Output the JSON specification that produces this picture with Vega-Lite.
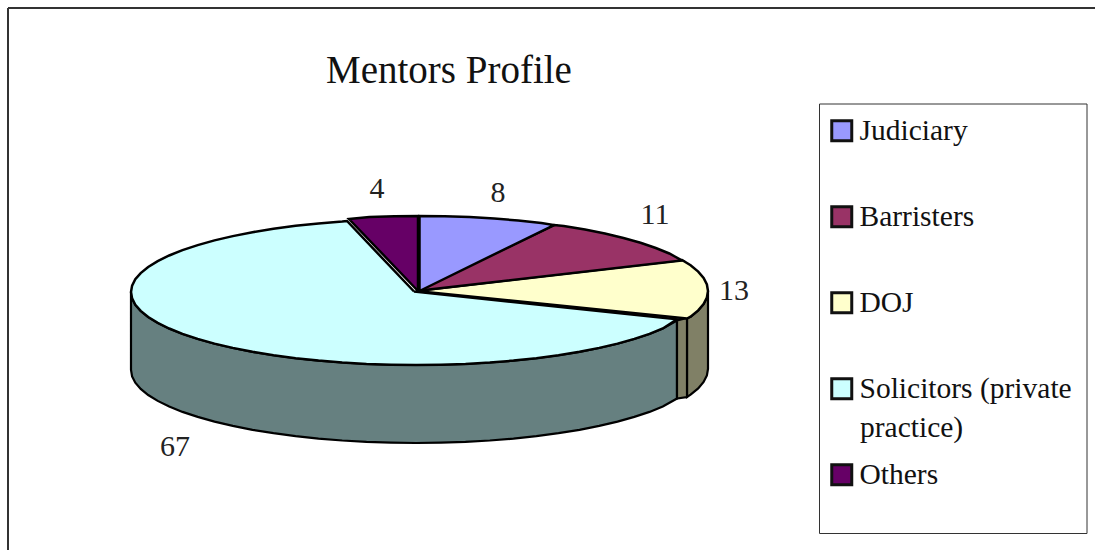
{
"$schema":"https://vega.github.io/schema/vega-lite/v6.json",
"width":1095,"height":550,"padding":0,"autosize":{"type":"none"},
"background":"white",
"view":{"stroke":null},
"title":{"text":"Mentors Profile","anchor":"start","frame":"group","dx":326,"offset":-91,"font":"Liberation Serif","fontSize":39,"fontWeight":"normal","color":"#111111"},
"datasets":{
"slices":[
{"name":"Judiciary","value":8,"x":498,"y":193},
{"name":"Barristers","value":11,"x":655,"y":215},
{"name":"DOJ","value":13,"x":734,"y":291},
{"name":"Solicitors (private practice)","value":67,"x":175,"y":447},
{"name":"Others","value":4,"x":377,"y":189}
],
"frame":[{"x":8,"x2":1095,"y":8,"y2":8},{"x":8,"x2":8,"y":8,"y2":550}],
"box":[{"x":819.5,"x2":1087,"y":104,"y2":533.5}],
"extra":[{"x":860,"y":428,"t":"practice)"}],
"walls":[
{"p":"S","x":677,"y":320.5},{"p":"S","x":662.8,"y":328.5},{"p":"S","x":649.5,"y":333.9},{"p":"S","x":634.3,"y":338.9},{"p":"S","x":617.5,"y":343.6},{"p":"S","x":599.2,"y":347.9},{"p":"S","x":579.5,"y":351.8},{"p":"S","x":558.5,"y":355.2},{"p":"S","x":536.4,"y":358.2},{"p":"S","x":513.5,"y":360.6},{"p":"S","x":489.8,"y":362.5},{"p":"S","x":465.5,"y":363.9},{"p":"S","x":440.9,"y":364.7},{"p":"S","x":416,"y":365},{"p":"S","x":391.1,"y":364.7},{"p":"S","x":366.5,"y":363.9},{"p":"S","x":342.2,"y":362.5},{"p":"S","x":318.5,"y":360.6},{"p":"S","x":295.6,"y":358.2},{"p":"S","x":273.5,"y":355.2},{"p":"S","x":252.5,"y":351.8},{"p":"S","x":232.8,"y":347.9},{"p":"S","x":214.5,"y":343.6},{"p":"S","x":197.7,"y":338.9},{"p":"S","x":182.5,"y":333.9},{"p":"S","x":169.2,"y":328.5},{"p":"S","x":157.7,"y":322.9},{"p":"S","x":148.2,"y":317},{"p":"S","x":140.7,"y":310.9},{"p":"S","x":135.3,"y":304.7},{"p":"S","x":132.1,"y":298.4},{"p":"S","x":131,"y":292},
{"p":"S","x":131,"y":370},{"p":"S","x":132.1,"y":376.4},{"p":"S","x":135.3,"y":382.7},{"p":"S","x":140.7,"y":388.9},{"p":"S","x":148.2,"y":395},{"p":"S","x":157.7,"y":400.9},{"p":"S","x":169.2,"y":406.5},{"p":"S","x":182.5,"y":411.9},{"p":"S","x":197.7,"y":416.9},{"p":"S","x":214.5,"y":421.6},{"p":"S","x":232.8,"y":425.9},{"p":"S","x":252.5,"y":429.8},{"p":"S","x":273.5,"y":433.2},{"p":"S","x":295.6,"y":436.2},{"p":"S","x":318.5,"y":438.6},{"p":"S","x":342.2,"y":440.5},{"p":"S","x":366.5,"y":441.9},{"p":"S","x":391.1,"y":442.7},{"p":"S","x":416,"y":443},{"p":"S","x":440.9,"y":442.7},{"p":"S","x":465.5,"y":441.9},{"p":"S","x":489.8,"y":440.5},{"p":"S","x":513.5,"y":438.6},{"p":"S","x":536.4,"y":436.2},{"p":"S","x":558.5,"y":433.2},{"p":"S","x":579.5,"y":429.8},{"p":"S","x":599.2,"y":425.9},{"p":"S","x":617.5,"y":421.6},{"p":"S","x":634.3,"y":416.9},{"p":"S","x":649.5,"y":411.9},{"p":"S","x":662.8,"y":406.5},{"p":"S","x":677,"y":398.5},{"p":"S","x":677,"y":320.5},
{"p":"D","x":687,"y":318},{"p":"D","x":690.6,"y":316.7},{"p":"D","x":698.2,"y":310.4},{"p":"D","x":703.6,"y":304},{"p":"D","x":706.9,"y":297.5},{"p":"D","x":708,"y":291},{"p":"D","x":708,"y":369},{"p":"D","x":706.9,"y":375.5},{"p":"D","x":703.6,"y":382},{"p":"D","x":698.2,"y":388.4},{"p":"D","x":690.6,"y":394.7},{"p":"D","x":687,"y":397},{"p":"D","x":687,"y":318},
{"p":"C","x":677,"y":320.5},{"p":"C","x":687,"y":318},{"p":"C","x":687,"y":397},{"p":"C","x":677,"y":398.5},{"p":"C","x":677,"y":320.5}
],
"tops":[
{"name":"Solicitors (private practice)","x":414,"y":291.5},{"name":"Solicitors (private practice)","x":677,"y":319.3},{"name":"Solicitors (private practice)","x":662.8,"y":328.5},{"name":"Solicitors (private practice)","x":649.5,"y":333.9},{"name":"Solicitors (private practice)","x":634.3,"y":338.9},{"name":"Solicitors (private practice)","x":617.5,"y":343.6},{"name":"Solicitors (private practice)","x":599.2,"y":347.9},{"name":"Solicitors (private practice)","x":579.5,"y":351.8},{"name":"Solicitors (private practice)","x":558.5,"y":355.2},{"name":"Solicitors (private practice)","x":536.4,"y":358.2},{"name":"Solicitors (private practice)","x":513.5,"y":360.6},{"name":"Solicitors (private practice)","x":489.8,"y":362.5},{"name":"Solicitors (private practice)","x":465.5,"y":363.9},{"name":"Solicitors (private practice)","x":440.9,"y":364.7},{"name":"Solicitors (private practice)","x":416,"y":365},{"name":"Solicitors (private practice)","x":391.1,"y":364.7},{"name":"Solicitors (private practice)","x":366.5,"y":363.9},{"name":"Solicitors (private practice)","x":342.2,"y":362.5},{"name":"Solicitors (private practice)","x":318.5,"y":360.6},{"name":"Solicitors (private practice)","x":295.6,"y":358.2},{"name":"Solicitors (private practice)","x":273.5,"y":355.2},{"name":"Solicitors (private practice)","x":252.5,"y":351.8},{"name":"Solicitors (private practice)","x":232.8,"y":347.9},{"name":"Solicitors (private practice)","x":214.5,"y":343.6},{"name":"Solicitors (private practice)","x":197.7,"y":338.9},{"name":"Solicitors (private practice)","x":182.5,"y":333.9},{"name":"Solicitors (private practice)","x":169.2,"y":328.5},{"name":"Solicitors (private practice)","x":157.7,"y":322.9},{"name":"Solicitors (private practice)","x":148.2,"y":317},{"name":"Solicitors (private practice)","x":140.7,"y":310.9},{"name":"Solicitors (private practice)","x":135.3,"y":304.7},{"name":"Solicitors (private practice)","x":132.1,"y":298.4},{"name":"Solicitors (private practice)","x":131,"y":292},{"name":"Solicitors (private practice)","x":132.1,"y":285.6},{"name":"Solicitors (private practice)","x":135.3,"y":279.3},{"name":"Solicitors (private practice)","x":140.7,"y":273.1},{"name":"Solicitors (private practice)","x":148.2,"y":267},{"name":"Solicitors (private practice)","x":157.7,"y":261.1},{"name":"Solicitors (private practice)","x":169.2,"y":255.5},{"name":"Solicitors (private practice)","x":182.5,"y":250.1},{"name":"Solicitors (private practice)","x":197.7,"y":245.1},{"name":"Solicitors (private practice)","x":214.5,"y":240.4},{"name":"Solicitors (private practice)","x":232.8,"y":236.1},{"name":"Solicitors (private practice)","x":252.5,"y":232.2},{"name":"Solicitors (private practice)","x":273.5,"y":228.8},{"name":"Solicitors (private practice)","x":295.6,"y":225.8},{"name":"Solicitors (private practice)","x":318.5,"y":223.4},{"name":"Solicitors (private practice)","x":342.2,"y":221.5},{"name":"Solicitors (private practice)","x":347,"y":221},{"name":"Solicitors (private practice)","x":414,"y":291.5},
{"name":"DOJ","x":416,"y":291},{"name":"DOJ","x":682,"y":260},{"name":"DOJ","x":690.6,"y":265.3},{"name":"DOJ","x":698.2,"y":271.6},{"name":"DOJ","x":703.6,"y":278},{"name":"DOJ","x":706.9,"y":284.5},{"name":"DOJ","x":708,"y":291},{"name":"DOJ","x":706.9,"y":297.5},{"name":"DOJ","x":703.6,"y":304},{"name":"DOJ","x":698.2,"y":310.4},{"name":"DOJ","x":690.6,"y":316.7},{"name":"DOJ","x":687,"y":318.5},{"name":"DOJ","x":416,"y":291},
{"name":"Barristers","x":416,"y":291},{"name":"Barristers","x":554,"y":225},{"name":"Barristers","x":563.8,"y":226},{"name":"Barristers","x":585,"y":229.6},{"name":"Barristers","x":604.9,"y":233.5},{"name":"Barristers","x":623.5,"y":238},{"name":"Barristers","x":640.5,"y":242.8},{"name":"Barristers","x":655.8,"y":248},{"name":"Barristers","x":669.3,"y":253.5},{"name":"Barristers","x":682,"y":260.5},{"name":"Barristers","x":416,"y":291},
{"name":"Judiciary","x":419.5,"y":291},{"name":"Judiciary","x":419.5,"y":216},{"name":"Judiciary","x":444.6,"y":216.3},{"name":"Judiciary","x":469.6,"y":217.1},{"name":"Judiciary","x":494.2,"y":218.6},{"name":"Judiciary","x":518.2,"y":220.5},{"name":"Judiciary","x":541.4,"y":223},{"name":"Judiciary","x":554,"y":225},{"name":"Judiciary","x":419.5,"y":291},
{"name":"Others","x":418,"y":291},{"name":"Others","x":418,"y":216},{"name":"Others","x":394.4,"y":216.3},{"name":"Others","x":369.4,"y":217.1},{"name":"Others","x":349,"y":219},{"name":"Others","x":418,"y":291}
]
},
"layer":[
{"data":{"name":"frame"},"mark":{"type":"rule","color":"#333333","strokeWidth":2},
"encoding":{"x":{"field":"x","type":"quantitative","scale":{"domain":[0,1095],"nice":false,"zero":false},"axis":null},"x2":{"field":"x2"},"y":{"field":"y","type":"quantitative","scale":{"domain":[550,0],"nice":false,"zero":false},"axis":null},"y2":{"field":"y2"}}},
{"data":{"name":"box"},"mark":{"type":"rect","fill":"white","stroke":"#333333","strokeWidth":1},
"encoding":{"x":{"field":"x","type":"quantitative"},"x2":{"field":"x2"},"y":{"field":"y","type":"quantitative"},"y2":{"field":"y2"}}},
{"data":{"name":"walls"},"transform":[{"filter":"datum.p==='S'"},{"window":[{"op":"row_number","as":"seq"}]}],"mark":{"type":"line","fill":"#668080","stroke":"black","strokeWidth":2.2},
"encoding":{"x":{"field":"x","type":"quantitative"},"y":{"field":"y","type":"quantitative"},"order":{"field":"seq"}}},
{"data":{"name":"walls"},"transform":[{"filter":"datum.p==='D'"},{"window":[{"op":"row_number","as":"seq"}]}],"mark":{"type":"line","fill":"#808066","stroke":"black","strokeWidth":2.2},
"encoding":{"x":{"field":"x","type":"quantitative"},"y":{"field":"y","type":"quantitative"},"order":{"field":"seq"}}},
{"data":{"name":"walls"},"transform":[{"filter":"datum.p==='C'"},{"window":[{"op":"row_number","as":"seq"}]}],"mark":{"type":"line","fill":"#808066","stroke":"black","strokeWidth":2.2},
"encoding":{"x":{"field":"x","type":"quantitative"},"y":{"field":"y","type":"quantitative"},"order":{"field":"seq"}}},
{"data":{"name":"tops"},"transform":[{"window":[{"op":"row_number","as":"seq"}],"groupby":["name"]}],"mark":{"type":"line","stroke":"black","strokeWidth":2.5,"strokeJoin":"miter"},
"encoding":{"x":{"field":"x","type":"quantitative"},"y":{"field":"y","type":"quantitative"},"order":{"field":"seq"},
"fill":{"field":"name","type":"nominal","scale":{"domain":["Judiciary","Barristers","DOJ","Solicitors (private practice)","Others"],"range":["#9999ff","#993366","#ffffcc","#ccffff","#660066"]},
"legend":{"orient":"none","legendX":827,"legendY":116,"title":null,"symbolType":"square","symbolSize":400,"symbolStrokeColor":"#111111","symbolStrokeWidth":3,"symbolOpacity":1,"labelFont":"Liberation Serif","labelFontSize":29.5,"labelColor":"#111111","labelOffset":3,"labelLimit":240,"rowPadding":53,"labelExpr":"datum.label==='Solicitors (private practice)'?'Solicitors (private':datum.label"}}}},
{"data":{"name":"slices"},"mark":{"type":"text","font":"Liberation Serif","fontSize":30,"color":"#222222","baseline":"middle","align":"center"},
"encoding":{"x":{"field":"x","type":"quantitative"},"y":{"field":"y","type":"quantitative"},"text":{"field":"value","type":"quantitative"}}},
{"data":{"name":"extra"},"mark":{"type":"text","font":"Liberation Serif","fontSize":29.5,"color":"#111111","baseline":"middle","align":"left"},
"encoding":{"x":{"field":"x","type":"quantitative"},"y":{"field":"y","type":"quantitative"},"text":{"field":"t"}}}
]
}
